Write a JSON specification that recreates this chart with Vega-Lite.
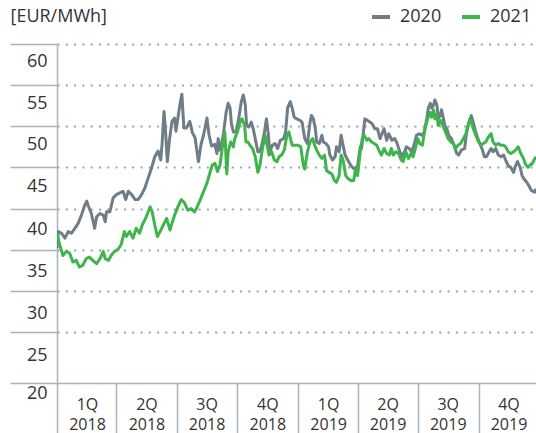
{
  "$schema": "https://vega.github.io/schema/vega-lite/v6.json",
  "width": 479,
  "height": 339,
  "autosize": {"type": "none"},
  "padding": {"left": 57, "top": 44, "right": 0, "bottom": 50},
  "config": {
    "font": "Open Sans",
    "view": {"stroke": null}
  },
  "datasets": {
    "prices": [
      {"d":"2018-01-01","s":"2020","v":35.2},{"d":"2018-01-03","s":"2020","v":37.2},{"d":"2018-01-08","s":"2020","v":37.0},{"d":"2018-01-13","s":"2020","v":36.4},{"d":"2018-01-18","s":"2020","v":37.2},{"d":"2018-01-23","s":"2020","v":37.0},{"d":"2018-01-28","s":"2020","v":37.6},{"d":"2018-02-02","s":"2020","v":38.2},{"d":"2018-02-07","s":"2020","v":39.2},{"d":"2018-02-12","s":"2020","v":40.4},{"d":"2018-02-15","s":"2020","v":40.9},{"d":"2018-02-17","s":"2020","v":40.4},{"d":"2018-02-22","s":"2020","v":39.4},{"d":"2018-02-27","s":"2020","v":37.6},{"d":"2018-03-02","s":"2020","v":39.0},{"d":"2018-03-07","s":"2020","v":39.4},{"d":"2018-03-12","s":"2020","v":39.2},{"d":"2018-03-15","s":"2020","v":38.4},{"d":"2018-03-17","s":"2020","v":39.6},{"d":"2018-03-22","s":"2020","v":39.6},{"d":"2018-03-27","s":"2020","v":41.3},{"d":"2018-04-01","s":"2020","v":41.7},{"d":"2018-04-06","s":"2020","v":41.9},{"d":"2018-04-11","s":"2020","v":42.1},{"d":"2018-04-15","s":"2020","v":41.1},{"d":"2018-04-19","s":"2020","v":42.1},{"d":"2018-04-24","s":"2020","v":41.7},{"d":"2018-04-29","s":"2020","v":41.1},{"d":"2018-05-04","s":"2020","v":41.1},{"d":"2018-05-09","s":"2020","v":41.7},{"d":"2018-05-14","s":"2020","v":42.5},{"d":"2018-05-19","s":"2020","v":43.7},{"d":"2018-05-24","s":"2020","v":44.9},{"d":"2018-05-29","s":"2020","v":46.3},{"d":"2018-06-03","s":"2020","v":47.0},{"d":"2018-06-07","s":"2020","v":45.9},{"d":"2018-06-09","s":"2020","v":47.8},{"d":"2018-06-12","s":"2020","v":51.8},{"d":"2018-06-14","s":"2020","v":49.8},{"d":"2018-06-17","s":"2020","v":45.7},{"d":"2018-06-20","s":"2020","v":48.2},{"d":"2018-06-24","s":"2020","v":50.6},{"d":"2018-06-28","s":"2020","v":51.0},{"d":"2018-06-30","s":"2020","v":49.4},{"d":"2018-07-03","s":"2020","v":51.0},{"d":"2018-07-06","s":"2020","v":52.6},{"d":"2018-07-09","s":"2020","v":53.9},{"d":"2018-07-12","s":"2020","v":49.8},{"d":"2018-07-16","s":"2020","v":49.8},{"d":"2018-07-21","s":"2020","v":50.6},{"d":"2018-07-25","s":"2020","v":49.2},{"d":"2018-07-29","s":"2020","v":48.6},{"d":"2018-08-03","s":"2020","v":45.7},{"d":"2018-08-07","s":"2020","v":47.8},{"d":"2018-08-11","s":"2020","v":49.0},{"d":"2018-08-16","s":"2020","v":51.0},{"d":"2018-08-19","s":"2020","v":49.0},{"d":"2018-08-23","s":"2020","v":47.6},{"d":"2018-08-28","s":"2020","v":47.8},{"d":"2018-08-31","s":"2020","v":46.7},{"d":"2018-09-02","s":"2020","v":48.5},{"d":"2018-09-04","s":"2020","v":47.1},{"d":"2018-09-07","s":"2020","v":47.9},{"d":"2018-09-10","s":"2020","v":49.1},{"d":"2018-09-14","s":"2020","v":51.7},{"d":"2018-09-17","s":"2020","v":52.8},{"d":"2018-09-20","s":"2020","v":52.2},{"d":"2018-09-22","s":"2020","v":50.3},{"d":"2018-09-25","s":"2020","v":49.3},{"d":"2018-09-29","s":"2020","v":49.3},{"d":"2018-10-03","s":"2020","v":50.9},{"d":"2018-10-07","s":"2020","v":53.0},{"d":"2018-10-10","s":"2020","v":53.8},{"d":"2018-10-13","s":"2020","v":52.6},{"d":"2018-10-15","s":"2020","v":50.1},{"d":"2018-10-18","s":"2020","v":49.9},{"d":"2018-10-22","s":"2020","v":50.5},{"d":"2018-10-25","s":"2020","v":49.7},{"d":"2018-10-29","s":"2020","v":48.1},{"d":"2018-11-01","s":"2020","v":46.9},{"d":"2018-11-04","s":"2020","v":46.9},{"d":"2018-11-07","s":"2020","v":47.7},{"d":"2018-11-11","s":"2020","v":49.3},{"d":"2018-11-14","s":"2020","v":50.9},{"d":"2018-11-17","s":"2020","v":48.9},{"d":"2018-11-19","s":"2020","v":46.9},{"d":"2018-11-23","s":"2020","v":47.7},{"d":"2018-11-27","s":"2020","v":47.9},{"d":"2018-12-01","s":"2020","v":47.3},{"d":"2018-12-05","s":"2020","v":48.3},{"d":"2018-12-10","s":"2020","v":48.5},{"d":"2018-12-13","s":"2020","v":49.3},{"d":"2018-12-16","s":"2020","v":52.2},{"d":"2018-12-20","s":"2020","v":53.0},{"d":"2018-12-23","s":"2020","v":52.2},{"d":"2018-12-26","s":"2020","v":51.1},{"d":"2018-12-30","s":"2020","v":50.9},{"d":"2019-01-04","s":"2020","v":50.7},{"d":"2019-01-07","s":"2020","v":50.5},{"d":"2019-01-11","s":"2020","v":48.5},{"d":"2019-01-15","s":"2020","v":47.9},{"d":"2019-01-19","s":"2020","v":50.5},{"d":"2019-01-21","s":"2020","v":51.3},{"d":"2019-01-24","s":"2020","v":50.9},{"d":"2019-01-27","s":"2020","v":49.7},{"d":"2019-01-29","s":"2020","v":48.1},{"d":"2019-02-02","s":"2020","v":47.9},{"d":"2019-02-06","s":"2020","v":48.9},{"d":"2019-02-08","s":"2020","v":48.1},{"d":"2019-02-12","s":"2020","v":47.9},{"d":"2019-02-16","s":"2020","v":47.5},{"d":"2019-02-18","s":"2020","v":46.5},{"d":"2019-02-22","s":"2020","v":45.9},{"d":"2019-02-26","s":"2020","v":46.3},{"d":"2019-02-28","s":"2020","v":47.5},{"d":"2019-03-04","s":"2020","v":46.9},{"d":"2019-03-07","s":"2020","v":48.9},{"d":"2019-03-10","s":"2020","v":47.7},{"d":"2019-03-13","s":"2020","v":46.5},{"d":"2019-03-17","s":"2020","v":45.9},{"d":"2019-03-22","s":"2020","v":45.2},{"d":"2019-03-27","s":"2020","v":44.8},{"d":"2019-04-01","s":"2020","v":45.2},{"d":"2019-04-05","s":"2020","v":47.5},{"d":"2019-04-07","s":"2020","v":47.3},{"d":"2019-04-12","s":"2020","v":50.9},{"d":"2019-04-16","s":"2020","v":50.7},{"d":"2019-04-20","s":"2020","v":50.5},{"d":"2019-04-23","s":"2020","v":50.3},{"d":"2019-04-27","s":"2020","v":49.7},{"d":"2019-05-01","s":"2020","v":49.7},{"d":"2019-05-05","s":"2020","v":48.5},{"d":"2019-05-08","s":"2020","v":49.1},{"d":"2019-05-11","s":"2020","v":49.7},{"d":"2019-05-15","s":"2020","v":48.3},{"d":"2019-05-18","s":"2020","v":49.1},{"d":"2019-05-23","s":"2020","v":48.3},{"d":"2019-05-27","s":"2020","v":48.5},{"d":"2019-05-30","s":"2020","v":48.1},{"d":"2019-06-03","s":"2020","v":47.1},{"d":"2019-06-07","s":"2020","v":46.3},{"d":"2019-06-11","s":"2020","v":46.9},{"d":"2019-06-14","s":"2020","v":47.5},{"d":"2019-06-18","s":"2020","v":47.3},{"d":"2019-06-22","s":"2020","v":46.9},{"d":"2019-06-26","s":"2020","v":47.9},{"d":"2019-06-29","s":"2020","v":48.9},{"d":"2019-07-03","s":"2020","v":49.1},{"d":"2019-07-07","s":"2020","v":48.9},{"d":"2019-07-11","s":"2020","v":49.3},{"d":"2019-07-15","s":"2020","v":51.1},{"d":"2019-07-17","s":"2020","v":52.2},{"d":"2019-07-20","s":"2020","v":52.8},{"d":"2019-07-22","s":"2020","v":52.2},{"d":"2019-07-25","s":"2020","v":52.6},{"d":"2019-07-27","s":"2020","v":53.2},{"d":"2019-07-30","s":"2020","v":52.6},{"d":"2019-08-01","s":"2020","v":50.9},{"d":"2019-08-04","s":"2020","v":51.3},{"d":"2019-08-06","s":"2020","v":52.0},{"d":"2019-08-09","s":"2020","v":50.9},{"d":"2019-08-11","s":"2020","v":50.1},{"d":"2019-08-14","s":"2020","v":49.7},{"d":"2019-08-17","s":"2020","v":48.9},{"d":"2019-08-21","s":"2020","v":48.5},{"d":"2019-08-25","s":"2020","v":47.7},{"d":"2019-08-29","s":"2020","v":46.7},{"d":"2019-09-01","s":"2020","v":46.5},{"d":"2019-09-05","s":"2020","v":47.1},{"d":"2019-09-10","s":"2020","v":47.3},{"d":"2019-09-13","s":"2020","v":49.3},{"d":"2019-09-17","s":"2020","v":50.5},{"d":"2019-09-20","s":"2020","v":51.3},{"d":"2019-09-23","s":"2020","v":50.5},{"d":"2019-09-26","s":"2020","v":49.5},{"d":"2019-09-30","s":"2020","v":48.5},{"d":"2019-10-03","s":"2020","v":47.9},{"d":"2019-10-07","s":"2020","v":47.1},{"d":"2019-10-10","s":"2020","v":46.3},{"d":"2019-10-13","s":"2020","v":46.3},{"d":"2019-10-17","s":"2020","v":46.9},{"d":"2019-10-20","s":"2020","v":47.3},{"d":"2019-10-23","s":"2020","v":46.9},{"d":"2019-10-27","s":"2020","v":47.3},{"d":"2019-10-31","s":"2020","v":46.5},{"d":"2019-11-04","s":"2020","v":46.3},{"d":"2019-11-08","s":"2020","v":46.5},{"d":"2019-11-11","s":"2020","v":45.9},{"d":"2019-11-15","s":"2020","v":45.2},{"d":"2019-11-19","s":"2020","v":45.0},{"d":"2019-11-23","s":"2020","v":44.4},{"d":"2019-11-26","s":"2020","v":45.2},{"d":"2019-11-29","s":"2020","v":45.7},{"d":"2019-12-03","s":"2020","v":45.0},{"d":"2019-12-06","s":"2020","v":44.0},{"d":"2019-12-09","s":"2020","v":43.6},{"d":"2019-12-13","s":"2020","v":43.2},{"d":"2019-12-16","s":"2020","v":42.8},{"d":"2019-12-20","s":"2020","v":42.2},{"d":"2019-12-25","s":"2020","v":42.0},{"d":"2019-12-27","s":"2020","v":42.4},
      {"d":"2018-01-01","s":"2021","v":37.0},{"d":"2018-01-05","s":"2021","v":35.6},{"d":"2018-01-10","s":"2021","v":34.3},{"d":"2018-01-15","s":"2021","v":34.8},{"d":"2018-01-20","s":"2021","v":34.6},{"d":"2018-01-25","s":"2021","v":33.5},{"d":"2018-01-30","s":"2021","v":33.7},{"d":"2018-02-04","s":"2021","v":32.9},{"d":"2018-02-09","s":"2021","v":33.1},{"d":"2018-02-14","s":"2021","v":33.9},{"d":"2018-02-19","s":"2021","v":34.1},{"d":"2018-02-24","s":"2021","v":33.7},{"d":"2018-03-02","s":"2021","v":33.3},{"d":"2018-03-07","s":"2021","v":33.9},{"d":"2018-03-12","s":"2021","v":34.8},{"d":"2018-03-15","s":"2021","v":33.9},{"d":"2018-03-20","s":"2021","v":33.7},{"d":"2018-03-24","s":"2021","v":34.3},{"d":"2018-03-29","s":"2021","v":34.8},{"d":"2018-04-03","s":"2021","v":35.0},{"d":"2018-04-08","s":"2021","v":35.6},{"d":"2018-04-13","s":"2021","v":37.2},{"d":"2018-04-16","s":"2021","v":36.6},{"d":"2018-04-21","s":"2021","v":37.2},{"d":"2018-04-26","s":"2021","v":36.4},{"d":"2018-05-01","s":"2021","v":37.6},{"d":"2018-05-06","s":"2021","v":37.0},{"d":"2018-05-10","s":"2021","v":38.0},{"d":"2018-05-15","s":"2021","v":38.8},{"d":"2018-05-22","s":"2021","v":40.2},{"d":"2018-05-25","s":"2021","v":39.6},{"d":"2018-05-29","s":"2021","v":38.0},{"d":"2018-06-02","s":"2021","v":36.6},{"d":"2018-06-06","s":"2021","v":37.2},{"d":"2018-06-11","s":"2021","v":38.0},{"d":"2018-06-16","s":"2021","v":38.8},{"d":"2018-06-21","s":"2021","v":37.4},{"d":"2018-06-24","s":"2021","v":38.2},{"d":"2018-06-28","s":"2021","v":39.2},{"d":"2018-07-03","s":"2021","v":40.2},{"d":"2018-07-08","s":"2021","v":41.1},{"d":"2018-07-13","s":"2021","v":40.7},{"d":"2018-07-18","s":"2021","v":39.8},{"d":"2018-07-23","s":"2021","v":40.0},{"d":"2018-07-28","s":"2021","v":39.6},{"d":"2018-07-31","s":"2021","v":40.0},{"d":"2018-08-05","s":"2021","v":40.9},{"d":"2018-08-11","s":"2021","v":42.1},{"d":"2018-08-16","s":"2021","v":43.1},{"d":"2018-08-21","s":"2021","v":44.5},{"d":"2018-08-24","s":"2021","v":45.3},{"d":"2018-08-28","s":"2021","v":45.5},{"d":"2018-09-01","s":"2021","v":44.5},{"d":"2018-09-05","s":"2021","v":45.4},{"d":"2018-09-08","s":"2021","v":47.3},{"d":"2018-09-12","s":"2021","v":49.3},{"d":"2018-09-15","s":"2021","v":44.2},{"d":"2018-09-17","s":"2021","v":46.9},{"d":"2018-09-21","s":"2021","v":48.1},{"d":"2018-09-25","s":"2021","v":47.5},{"d":"2018-09-27","s":"2021","v":48.5},{"d":"2018-10-01","s":"2021","v":49.3},{"d":"2018-10-05","s":"2021","v":50.5},{"d":"2018-10-08","s":"2021","v":50.9},{"d":"2018-10-12","s":"2021","v":50.1},{"d":"2018-10-14","s":"2021","v":48.1},{"d":"2018-10-17","s":"2021","v":48.1},{"d":"2018-10-20","s":"2021","v":47.7},{"d":"2018-10-24","s":"2021","v":47.3},{"d":"2018-10-28","s":"2021","v":46.3},{"d":"2018-11-01","s":"2021","v":44.4},{"d":"2018-11-04","s":"2021","v":45.2},{"d":"2018-11-08","s":"2021","v":47.3},{"d":"2018-11-12","s":"2021","v":48.9},{"d":"2018-11-15","s":"2021","v":47.7},{"d":"2018-11-18","s":"2021","v":46.5},{"d":"2018-11-22","s":"2021","v":46.9},{"d":"2018-11-26","s":"2021","v":45.9},{"d":"2018-11-30","s":"2021","v":45.7},{"d":"2018-12-03","s":"2021","v":46.3},{"d":"2018-12-07","s":"2021","v":46.5},{"d":"2018-12-11","s":"2021","v":47.1},{"d":"2018-12-15","s":"2021","v":48.9},{"d":"2018-12-18","s":"2021","v":49.3},{"d":"2018-12-21","s":"2021","v":48.3},{"d":"2018-12-23","s":"2021","v":47.7},{"d":"2018-12-27","s":"2021","v":47.7},{"d":"2019-01-01","s":"2021","v":47.7},{"d":"2019-01-05","s":"2021","v":47.5},{"d":"2019-01-09","s":"2021","v":45.2},{"d":"2019-01-11","s":"2021","v":44.8},{"d":"2019-01-15","s":"2021","v":46.9},{"d":"2019-01-19","s":"2021","v":48.1},{"d":"2019-01-23","s":"2021","v":48.5},{"d":"2019-01-26","s":"2021","v":47.7},{"d":"2019-01-29","s":"2021","v":47.1},{"d":"2019-02-02","s":"2021","v":46.5},{"d":"2019-02-06","s":"2021","v":46.1},{"d":"2019-02-10","s":"2021","v":46.5},{"d":"2019-02-13","s":"2021","v":44.6},{"d":"2019-02-17","s":"2021","v":44.4},{"d":"2019-02-21","s":"2021","v":44.2},{"d":"2019-02-25","s":"2021","v":43.4},{"d":"2019-02-28","s":"2021","v":43.2},{"d":"2019-03-04","s":"2021","v":44.0},{"d":"2019-03-07","s":"2021","v":46.5},{"d":"2019-03-10","s":"2021","v":45.9},{"d":"2019-03-14","s":"2021","v":44.0},{"d":"2019-03-18","s":"2021","v":43.6},{"d":"2019-03-22","s":"2021","v":43.4},{"d":"2019-03-26","s":"2021","v":43.4},{"d":"2019-03-29","s":"2021","v":44.8},{"d":"2019-04-01","s":"2021","v":44.0},{"d":"2019-04-05","s":"2021","v":46.9},{"d":"2019-04-08","s":"2021","v":48.5},{"d":"2019-04-11","s":"2021","v":48.9},{"d":"2019-04-15","s":"2021","v":48.3},{"d":"2019-04-18","s":"2021","v":48.5},{"d":"2019-04-22","s":"2021","v":48.1},{"d":"2019-04-26","s":"2021","v":47.9},{"d":"2019-04-30","s":"2021","v":47.7},{"d":"2019-05-03","s":"2021","v":47.1},{"d":"2019-05-07","s":"2021","v":46.5},{"d":"2019-05-11","s":"2021","v":47.3},{"d":"2019-05-15","s":"2021","v":46.7},{"d":"2019-05-19","s":"2021","v":46.5},{"d":"2019-05-22","s":"2021","v":47.3},{"d":"2019-05-25","s":"2021","v":46.5},{"d":"2019-05-29","s":"2021","v":46.9},{"d":"2019-06-02","s":"2021","v":46.7},{"d":"2019-06-06","s":"2021","v":45.9},{"d":"2019-06-09","s":"2021","v":45.7},{"d":"2019-06-13","s":"2021","v":46.9},{"d":"2019-06-17","s":"2021","v":46.1},{"d":"2019-06-21","s":"2021","v":46.7},{"d":"2019-06-24","s":"2021","v":46.3},{"d":"2019-06-28","s":"2021","v":47.5},{"d":"2019-07-01","s":"2021","v":48.5},{"d":"2019-07-04","s":"2021","v":47.9},{"d":"2019-07-08","s":"2021","v":47.7},{"d":"2019-07-12","s":"2021","v":49.7},{"d":"2019-07-16","s":"2021","v":50.9},{"d":"2019-07-20","s":"2021","v":51.7},{"d":"2019-07-22","s":"2021","v":51.1},{"d":"2019-07-25","s":"2021","v":52.0},{"d":"2019-07-27","s":"2021","v":50.9},{"d":"2019-07-30","s":"2021","v":51.5},{"d":"2019-08-01","s":"2021","v":50.1},{"d":"2019-08-05","s":"2021","v":50.7},{"d":"2019-08-09","s":"2021","v":49.9},{"d":"2019-08-12","s":"2021","v":49.3},{"d":"2019-08-16","s":"2021","v":48.5},{"d":"2019-08-20","s":"2021","v":48.1},{"d":"2019-08-24","s":"2021","v":47.9},{"d":"2019-08-27","s":"2021","v":47.3},{"d":"2019-08-31","s":"2021","v":47.7},{"d":"2019-09-04","s":"2021","v":47.9},{"d":"2019-09-08","s":"2021","v":48.5},{"d":"2019-09-12","s":"2021","v":49.1},{"d":"2019-09-15","s":"2021","v":50.1},{"d":"2019-09-18","s":"2021","v":50.9},{"d":"2019-09-21","s":"2021","v":50.3},{"d":"2019-09-23","s":"2021","v":49.7},{"d":"2019-09-27","s":"2021","v":48.9},{"d":"2019-10-01","s":"2021","v":48.1},{"d":"2019-10-05","s":"2021","v":47.7},{"d":"2019-10-08","s":"2021","v":47.9},{"d":"2019-10-12","s":"2021","v":48.1},{"d":"2019-10-16","s":"2021","v":48.7},{"d":"2019-10-20","s":"2021","v":49.1},{"d":"2019-10-23","s":"2021","v":48.1},{"d":"2019-10-27","s":"2021","v":47.7},{"d":"2019-10-31","s":"2021","v":47.9},{"d":"2019-11-04","s":"2021","v":47.7},{"d":"2019-11-08","s":"2021","v":47.7},{"d":"2019-11-11","s":"2021","v":47.5},{"d":"2019-11-15","s":"2021","v":46.9},{"d":"2019-11-19","s":"2021","v":46.7},{"d":"2019-11-23","s":"2021","v":46.9},{"d":"2019-11-26","s":"2021","v":47.1},{"d":"2019-11-30","s":"2021","v":47.5},{"d":"2019-12-04","s":"2021","v":46.7},{"d":"2019-12-08","s":"2021","v":46.1},{"d":"2019-12-11","s":"2021","v":45.4},{"d":"2019-12-15","s":"2021","v":45.0},{"d":"2019-12-19","s":"2021","v":45.4},{"d":"2019-12-21","s":"2021","v":45.4},{"d":"2019-12-24","s":"2021","v":45.9},{"d":"2019-12-27","s":"2021","v":46.3}
    ]
  },
  "data": {"name": "prices"},
  "mark": {"type": "line", "strokeWidth": 3, "strokeJoin": "round", "clip": true},
  "encoding": {
    "x": {
      "field": "d",
      "type": "temporal",
      "scale": {
        "type": "utc",
        "domain": [{"year": 2018, "month": 1, "date": 1, "utc": true}, {"year": 2019, "month": 12, "date": 27, "utc": true}],
        "nice": false
      },
      "axis": {
        "title": null,
        "grid": false,
        "values": [
          {"year": 2018, "month": 1, "date": 1, "utc": true},
          {"year": 2018, "month": 4, "date": 1, "utc": true},
          {"year": 2018, "month": 7, "date": 1, "utc": true},
          {"year": 2018, "month": 10, "date": 1, "utc": true},
          {"year": 2019, "month": 1, "date": 1, "utc": true},
          {"year": 2019, "month": 4, "date": 1, "utc": true},
          {"year": 2019, "month": 7, "date": 1, "utc": true},
          {"year": 2019, "month": 10, "date": 1, "utc": true}
        ],
        "labelExpr": "[utcquarter(datum.value) + 'Q', '' + utcyear(datum.value)]",
        "labelFlush": false,
        "labelOverlap": false,
        "labelBound": false,
        "labelAlign": "center",
        "labelBaseline": "top",
        "labelOffset": 30,
        "labelPadding": -37,
        "labelLineHeight": 20,
        "labelFontSize": 16,
        "labelColor": "#333333",
        "tickSize": 50,
        "tickWidth": 1.5,
        "tickColor": "#a9b4bc",
        "domainColor": "#a9b4bc",
        "domainWidth": 1.5
      }
    },
    "y": {
      "field": "v",
      "type": "quantitative",
      "scale": {"domain": [18.8, 60], "nice": false, "zero": false},
      "axis": {
        "title": "[EUR/MWh]",
        "titleAngle": 0,
        "titleX": -47,
        "titleY": -28,
        "titleAlign": "left",
        "titleBaseline": "middle",
        "titleFontSize": 18,
        "titleFontWeight": "normal",
        "titleColor": "#333333",
        "values": [18.8, 25, 30, 35, 40, 45, 50, 55, 60],
        "labelExpr": "datum.value < 20 ? '20' : datum.label",
        "labelFlush": false,
        "labelOverlap": false,
        "labelBound": false,
        "labelAlign": "right",
        "labelBaseline": "middle",
        "labelPadding": -37,
        "labelFontSize": 18,
        "labelColor": "#333333",
        "labelOffset": {
          "condition": [
            {"test": "datum.value < 20", "value": 10},
            {"test": "datum.value < 27", "value": 24},
            {"test": "datum.value < 32", "value": 22.5},
            {"test": "datum.value < 37", "value": 21.5},
            {"test": "datum.value < 42", "value": 20.5},
            {"test": "datum.value < 47", "value": 19.5},
            {"test": "datum.value < 52", "value": 18.5},
            {"test": "datum.value < 57", "value": 18}
          ],
          "value": 17
        },
        "tickSize": 47,
        "tickWidth": 1.5,
        "tickColor": "#a9b4bc",
        "domainColor": "#a9b4bc",
        "domainWidth": 1.5,
        "grid": true,
        "gridColor": "#98a4ad",
        "gridWidth": 2,
        "gridDash": [2, 6.3],
        "gridOpacity": {"condition": {"test": "datum.value < 20", "value": 0}, "value": 1}
      }
    },
    "color": {
      "field": "s",
      "type": "nominal",
      "scale": {"domain": ["2020", "2021"], "range": ["#6f7d88", "#3db54a"]},
      "legend": {
        "title": null,
        "orient": "none",
        "legendX": 313,
        "legendY": -38,
        "direction": "horizontal",
        "symbolType": "stroke",
        "symbolStrokeWidth": 4,
        "symbolSize": 324,
        "labelFontSize": 18,
        "labelColor": "#333333",
        "labelOffset": 8,
        "columnPadding": 12
      }
    }
  }
}
